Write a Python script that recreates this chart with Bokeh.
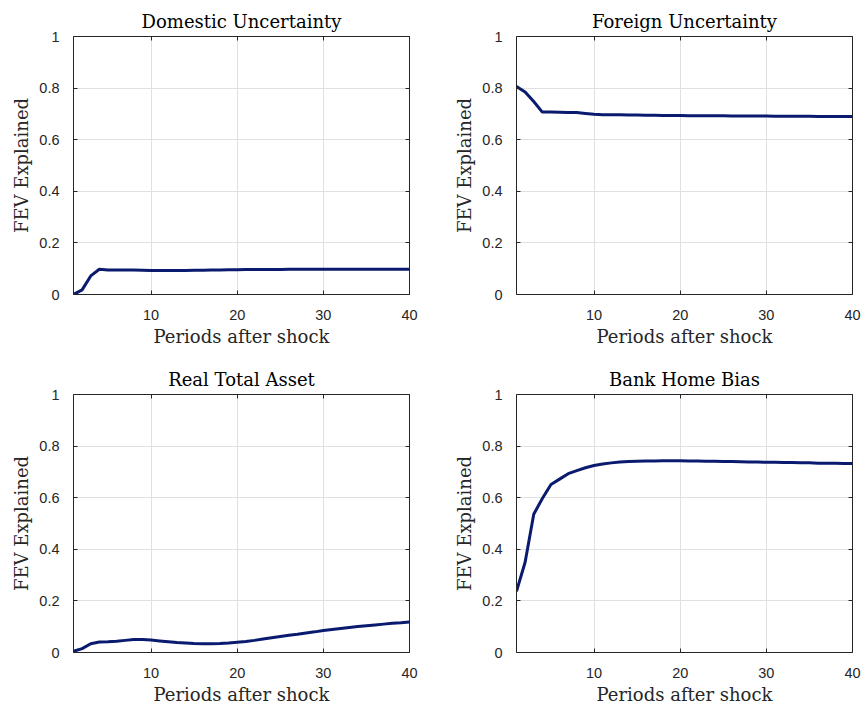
from bokeh.plotting import figure
from bokeh.layouts import gridplot
from bokeh.models import Range1d, FixedTicker, LinearAxis, CustomJSTickFormatter
from bokeh.embed import file_html
from bokeh.resources import INLINE

# ---------------- data ----------------
periods = list(range(1, 41))

titles = ["Domestic Uncertainty", "Foreign Uncertainty", "Real Total Asset", "Bank Home Bias"]

domestic = [0.000, 0.018, 0.072, 0.098, 0.095, 0.095, 0.095, 0.095, 0.094, 0.093,
            0.093, 0.093, 0.093, 0.093, 0.094, 0.094, 0.095, 0.095, 0.096, 0.096,
            0.097, 0.097, 0.097, 0.097, 0.097, 0.098, 0.098, 0.098, 0.098, 0.098,
            0.098, 0.098, 0.098, 0.098, 0.098, 0.098, 0.098, 0.098, 0.098, 0.098]

foreign = [0.806, 0.785, 0.748, 0.707, 0.707, 0.706, 0.705, 0.705, 0.702, 0.699,
           0.697, 0.697, 0.697, 0.696, 0.696, 0.695, 0.695, 0.694, 0.694, 0.694,
           0.693, 0.693, 0.693, 0.693, 0.693, 0.692, 0.692, 0.692, 0.692, 0.692,
           0.691, 0.691, 0.691, 0.691, 0.691, 0.690, 0.690, 0.690, 0.690, 0.690]

real_total_asset = [0.005, 0.015, 0.034, 0.041, 0.042, 0.044, 0.047, 0.050, 0.050, 0.048,
                    0.045, 0.042, 0.039, 0.037, 0.035, 0.034, 0.034, 0.035, 0.037, 0.040,
                    0.043, 0.047, 0.052, 0.057, 0.062, 0.067, 0.071, 0.076, 0.080, 0.085,
                    0.089, 0.093, 0.097, 0.101, 0.104, 0.107, 0.110, 0.113, 0.115, 0.118]

home_bias = [0.237, 0.350, 0.536, 0.597, 0.651, 0.672, 0.693, 0.705, 0.716, 0.725,
             0.731, 0.735, 0.738, 0.740, 0.741, 0.742, 0.742, 0.743, 0.743, 0.743,
             0.742, 0.742, 0.741, 0.741, 0.740, 0.740, 0.739, 0.738, 0.738, 0.737,
             0.737, 0.736, 0.736, 0.735, 0.735, 0.734, 0.734, 0.734, 0.733, 0.733]

x_ticks = [10, 20, 30, 40]
y_ticks = [0, 0.2, 0.4, 0.6, 0.8, 1]
y_tick_labels = ["0", "0.2", "0.4", "0.6", "0.8", "1"]

x_label = "Periods after shock"
y_label = "FEV Explained"

# ---------------- styling ----------------
AX = "#262626"
GRID = "#e0e0e0"
LINE = "#0a1a6e"
SERIF = "DejaVu Serif"
SANS = "Liberation Sans"


def style_axis(ax, labels=True):
    ax.axis_line_color = AX
    ax.axis_line_width = 1
    ax.major_tick_line_color = AX
    ax.major_tick_in = 4
    ax.major_tick_out = 0
    ax.minor_tick_in = 0
    ax.minor_tick_out = 0
    ax.major_label_text_font = SANS
    ax.major_label_text_font_size = "14.5px"
    ax.major_label_text_color = AX
    if not labels:
        ax.formatter = CustomJSTickFormatter(code="return ''")
        ax.major_label_standoff = 0
        ax.major_label_text_font_size = "0px"


def make(title, y, w, h, bl, br, bt, bb):
    p = figure(width=w, height=h, x_range=Range1d(1, 40), y_range=Range1d(0, 1),
               output_backend="svg", toolbar_location=None,
               min_border_left=bl, min_border_right=br,
               min_border_top=bt, min_border_bottom=bb, title=title)
    p.line(periods, y, line_color=LINE, line_width=3)

    p.title.text_font = SERIF
    p.title.text_font_size = "18px"
    p.title.text_font_style = "normal"
    p.title.text_color = "black"
    p.title.align = "center"
    p.title.standoff = 9

    p.xaxis.ticker = FixedTicker(ticks=x_ticks)
    p.yaxis.ticker = FixedTicker(ticks=y_ticks)
    p.yaxis.major_label_overrides = {t: l for t, l in zip(y_ticks, y_tick_labels)}
    style_axis(p.xaxis[0])
    style_axis(p.yaxis[0])
    p.xaxis.major_label_standoff = 15
    p.yaxis.major_label_standoff = 14

    for ax, lab in ((p.xaxis[0], x_label), (p.yaxis[0], y_label)):
        ax.axis_label = lab
        ax.axis_label_text_font = SERIF
        ax.axis_label_text_font_size = "18px"
        ax.axis_label_text_font_style = "normal"
        ax.axis_label_text_color = AX
    p.xaxis.axis_label_standoff = 3
    p.yaxis.axis_label_standoff = 4

    top = LinearAxis(ticker=FixedTicker(ticks=x_ticks))
    style_axis(top, labels=False)
    p.add_layout(top, "above")
    right = LinearAxis(ticker=FixedTicker(ticks=y_ticks))
    style_axis(right, labels=False)
    p.add_layout(right, "right")

    p.xgrid.ticker = FixedTicker(ticks=x_ticks)
    p.ygrid.ticker = FixedTicker(ticks=y_ticks)
    p.grid.grid_line_color = GRID
    p.grid.grid_line_width = 1
    p.outline_line_color = None
    p.background_fill_color = "white"
    p.border_fill_color = "white"
    return p


tl = make(titles[0], domestic, 429, 352, 73, 20, 36, 58)
tr = make(titles[1], foreign, 436, 352, 87, 13, 36, 58)
bl = make(titles[2], real_total_asset, 429, 356, 73, 20, 42, 56)
br = make(titles[3], home_bias, 436, 356, 87, 13, 42, 56)

grid = gridplot([[tl, tr], [bl, br]], toolbar_location=None)

open("out.html", "w").write(file_html(grid, INLINE))
